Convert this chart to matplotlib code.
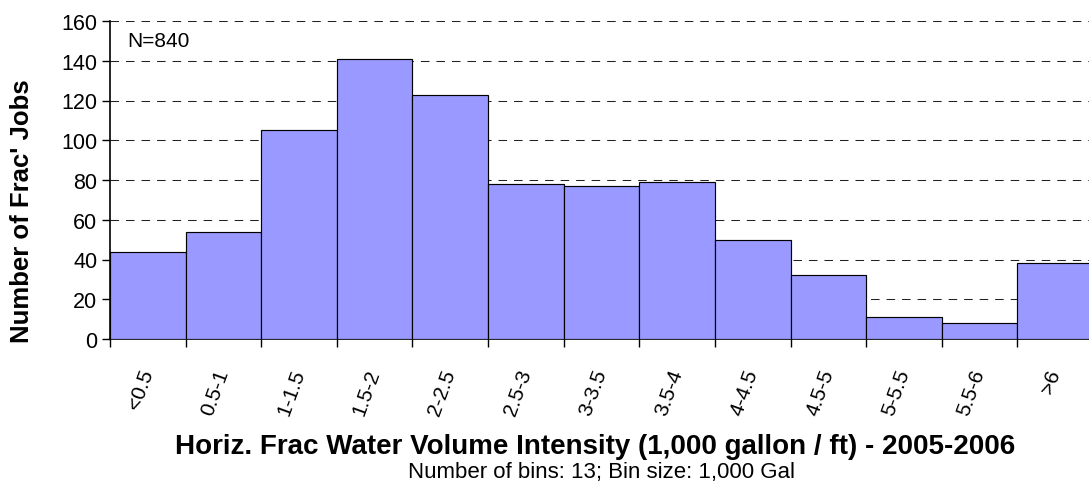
import matplotlib
matplotlib.use("Agg")
import matplotlib.pyplot as plt
import numpy as np

categories = ["<0.5", "0.5-1", "1-1.5", "1.5-2", "2-2.5", "2.5-3", "3-3.5",
              "3.5-4", "4-4.5", "4.5-5", "5-5.5", "5.5-6", ">6"]
counts = [44, 54, 105, 141, 123, 78, 77, 79, 50, 32, 11, 8, 38]
yticks = [0, 20, 40, 60, 80, 100, 120, 140, 160]

plt.rcParams['font.family'] = ['Liberation Sans', 'DejaVu Sans']

W, H = 1089, 489
fig = plt.figure(figsize=(W / 100, H / 100), dpi=100)
left, right, top, bottom = 110, 1093, 22, 340
ax = fig.add_axes([left / W, 1 - bottom / H, (right - left) / W, (bottom - top) / H])

x = np.arange(len(categories))
ax.bar(x, counts, width=1.0, color="#9999FF", edgecolor="black", linewidth=0.85, zorder=3)

ax.set_xlim(-0.5, len(categories) - 0.5)
ax.set_ylim(0, 160)
ax.set_yticks(yticks)
ax.set_yticklabels([str(v) for v in yticks], fontsize=15.5)
ax.yaxis.grid(True, linestyle=(0, (8.2, 6.7)), color="#222222", linewidth=0.75, zorder=0)
ax.set_axisbelow(True)

# boundary ticks (major) and category labels (minor)
ax.set_xticks(np.arange(len(categories) + 1) - 0.5)
ax.set_xticklabels([])
ax.tick_params(axis='x', which='major', length=6, width=1, direction='out')
ax.set_xticks(x, minor=True)
ax.set_xticklabels(categories, minor=True, rotation=70, ha='right', va='center',
                   rotation_mode='anchor', fontsize=15)
ax.tick_params(axis='x', which='minor', length=0, pad=22)
ax.tick_params(axis='y', length=6, width=1, direction='out', pad=3)

for s in ['top', 'right']:
    ax.spines[s].set_visible(False)
ax.spines['left'].set_linewidth(1.2)
ax.spines['bottom'].set_linewidth(1.2)

fig.text(22.5 / W, 1 - 211 / H, "Number of Frac' Jobs", rotation=90,
         ha='center', va='center', fontsize=18.5, fontweight='bold')

fig.text(595 / W, 1 - 454 / H,
         "Horiz. Frac Water Volume Intensity (1,000 gallon / ft) - 2005-2006",
         ha='center', va='baseline', fontsize=20, fontweight='bold')
fig.text((left + 1093) / 2 / W, 1 - 478 / H,
         "Number of bins: 13; Bin size: 1,000 Gal",
         ha='center', va='baseline', fontsize=16)

ax.text(0.018, 0.94, "N=840", transform=ax.transAxes, fontsize=15, ha='left', va='center')

fig.savefig("out.png", dpi=100)
